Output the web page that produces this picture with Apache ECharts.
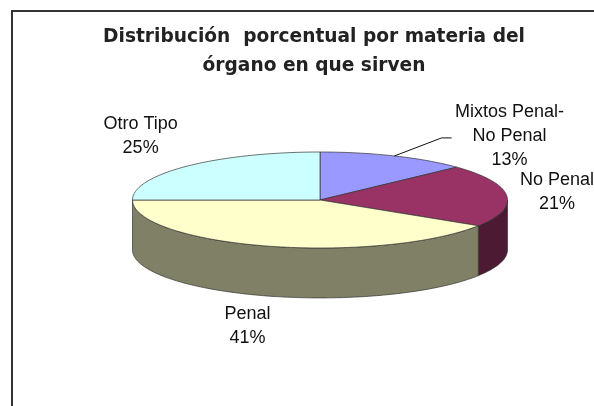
<!DOCTYPE html>
<html>
<head>
<meta charset="utf-8">
<script src="https://cdn.jsdelivr.net/npm/echarts@6/dist/echarts.min.js"></script>
<style>
  html, body { margin: 0; background: #fff; }
  #chart { width: 594px; height: 406px; }
</style>
</head>
<body>
<div id="chart"></div>
<script>
const categories = ['Mixtos Penal-\nNo Penal', 'No Penal', 'Penal', 'Otro Tipo']
const shares = [13, 21, 41, 25]
const titleLines = ['Distribución  porcentual por materia del', 'órgano en que sirven']

const topColors = ['#9999ff', '#993366', '#ffffcc', '#ccffff']
const sideColors = ['#4d4d80', '#4d1a33', '#808066', '#668080']
// disc thickness, in units of the vertical radius
const depth = 1.04
// small label tweaks (px), the first one is pulled out with a leader line
const labelNudge = [[95, 13], [0, 0], [-6, -5], [-11, -5]]

const total = shares.reduce((a, b) => a + b, 0)
let acc = 0
const slices = shares.map((v, i) => {
  const item = [acc, acc + v, i]
  acc += v
  return item
})

function arc(api, a, b, drop) {
  const pts = []
  const n = Math.max(6, Math.ceil(Math.abs(b - a) / 0.02))
  for (let k = 0; k <= n; k++) {
    const t = a + (b - a) * k / n
    pts.push(api.coord([Math.sin(t), Math.cos(t) - drop]))
  }
  return pts
}

function renderSlice(params, api) {
  const i = api.value(2)
  const a = api.value(0) / total * Math.PI * 2
  const b = api.value(1) / total * Math.PI * 2
  const children = []
  const edge = { stroke: '#333', lineWidth: 0.7 }

  // front wall, only the part facing the viewer
  const sa = Math.max(a, Math.PI / 2)
  const sb = Math.min(b, Math.PI * 1.5)
  if (sb > sa) {
    const pts = arc(api, sa, sb, 0).concat(arc(api, sb, sa, depth))
    children.push({
      type: 'polygon', z2: 1,
      shape: { points: pts },
      style: Object.assign({ fill: sideColors[i] }, edge)
    })
  }

  const top = [api.coord([0, 0])].concat(arc(api, a, b, 0))
  children.push({
    type: 'polygon', z2: 2,
    shape: { points: top },
    style: Object.assign({ fill: topColors[i] }, edge)
  })

  const m = (a + b) / 2
  const s = Math.sin(m)
  const c = Math.cos(m)
  const lp = api.coord([s * 1.27, c * 1.75 - (c < 0 ? depth : 0)])
  const x = lp[0] + labelNudge[i][0]
  const y = lp[1] + labelNudge[i][1]
  children.push({
    type: 'text', z2: 3,
    style: {
      text: categories[i] + '\n' + shares[i] + '%',
      x, y,
      align: 'center',
      verticalAlign: 'middle',
      font: '18px "Liberation Sans", Arial, sans-serif',
      lineHeight: 24,
      fill: '#111'
    }
  })

  if (i === 0) {
    const rim = api.coord([s, c])
    children.push({
      type: 'polyline', z2: 3,
      shape: { points: [rim, [x - 68, y + 2], [x - 58, y + 2]] },
      style: { stroke: '#111', lineWidth: 1, fill: 'none' }
    })
  }

  return { type: 'group', children }
}

const chart = echarts.init(document.getElementById('chart'))
chart.setOption({
  animation: false,
  backgroundColor: '#fff',
  title: {
    text: titleLines.join('\n'),
    left: 314,
    top: 23,
    padding: 0,
    textAlign: 'center',
    textStyle: {
      fontFamily: 'DejaVu Sans',
      fontWeight: 'bold',
      fontSize: 18.6,
      lineHeight: 29,
      color: '#222'
    }
  },
  graphic: [{
    type: 'rect',
    shape: { x: 12, y: 11, width: 640, height: 440 },
    style: { fill: 'none', stroke: '#333', lineWidth: 2 }
  }],
  grid: { left: 132.5, top: 152, width: 375, height: 96 },
  xAxis: { type: 'value', min: -1, max: 1, show: false },
  yAxis: { type: 'value', min: -1, max: 1, show: false },
  series: [{
    type: 'custom',
    silent: true,
    renderItem: renderSlice,
    data: slices
  }]
})
</script>
</body>
</html>
